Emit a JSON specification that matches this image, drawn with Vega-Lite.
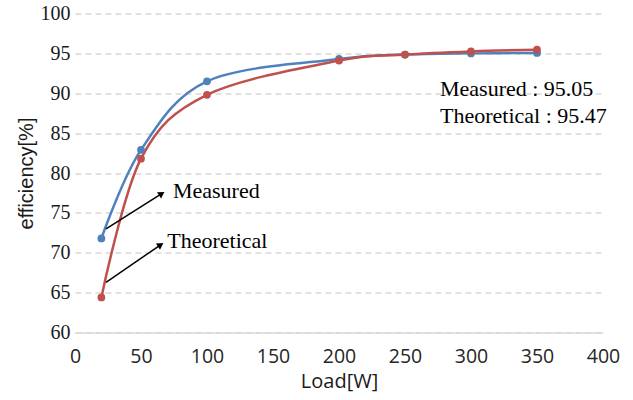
{
  "$schema": "https://vega.github.io/schema/vega-lite/v6.json",
  "width": 528,
  "height": 319,
  "autosize": {"type": "none"},
  "padding": {"left": 75, "top": 13.5, "right": 30, "bottom": 67.5},
  "background": "white",
  "config": {
    "view": {"stroke": null},
    "axisY": {
      "values": [60, 65, 70, 75, 80, 85, 90, 95, 100],
      "grid": true,
      "gridDash": [6, 4],
      "gridColor": "#d9d9d9",
      "gridWidth": 1.5,
      "domain": false,
      "ticks": false,
      "labelFlush": false,
      "labelOverlap": false,
      "labelPadding": 5,
      "labelFont": "Liberation Serif",
      "labelFontSize": 20,
      "labelColor": "#1a1a1a",
      "titleFont": "Liberation Sans",
      "titleFontSize": 20,
      "titleFontWeight": "normal",
      "titleColor": "#1a1a1a",
      "titlePadding": 4
    },
    "axisX": {
      "grid": false,
      "domainColor": "#d9d9d9",
      "domainWidth": 1.5,
      "ticks": false,
      "labelFlush": false,
      "labelOverlap": false,
      "labelPadding": 15,
      "labelDx": 5,
      "labelFont": "Open Sans",
      "labelFontSize": 19.5,
      "labelColor": "#262626",
      "titleFont": "Open Sans",
      "titleFontSize": 20,
      "titleFontWeight": "normal",
      "titleColor": "#1a1a1a",
      "titlePadding": 5
    }
  },
  "datasets": {
    "eff": [
      {"load": 20, "eff": 71.8, "series": "Measured"},
      {"load": 50, "eff": 82.9, "series": "Measured"},
      {"load": 100, "eff": 91.5, "series": "Measured"},
      {"load": 200, "eff": 94.3, "series": "Measured"},
      {"load": 250, "eff": 94.85, "series": "Measured"},
      {"load": 300, "eff": 95.0, "series": "Measured"},
      {"load": 350, "eff": 95.05, "series": "Measured"},
      {"load": 20, "eff": 64.4, "series": "Theoretical"},
      {"load": 50, "eff": 81.8, "series": "Theoretical"},
      {"load": 100, "eff": 89.8, "series": "Theoretical"},
      {"load": 200, "eff": 94.1, "series": "Theoretical"},
      {"load": 250, "eff": 94.85, "series": "Theoretical"},
      {"load": 300, "eff": 95.25, "series": "Theoretical"},
      {"load": 350, "eff": 95.47, "series": "Theoretical"}
    ],
    "arrows": [
      {"load": 23.5, "eff": 73.0, "load2": 65.7, "eff2": 77.4},
      {"load": 23.5, "eff": 66.3, "load2": 64.9, "eff2": 71.0}
    ],
    "arrowLabels": [
      {"load": 74.2, "eff": 77.8, "text": "Measured"},
      {"load": 69.9, "eff": 71.5, "text": "Theoretical"}
    ],
    "notes": [
      {"load": 276.5, "eff": 90.5, "text": "Measured : 95.05"},
      {"load": 276.5, "eff": 87.15, "text": "Theoretical : 95.47"}
    ]
  },
  "layer": [
    {
      "data": {"name": "eff"},
      "mark": {"type": "line", "interpolate": "cardinal", "strokeWidth": 2.5},
      "encoding": {
        "x": {
          "field": "load", "type": "quantitative",
          "scale": {"domain": [0, 400], "nice": false, "zero": false},
          "axis": {"title": "Load[W]", "values": [0, 50, 100, 150, 200, 250, 300, 350, 400]}
        },
        "y": {
          "field": "eff", "type": "quantitative",
          "scale": {"domain": [60, 100], "nice": false, "zero": false},
          "axis": {"title": "efficiency[%]"}
        },
        "color": {
          "field": "series", "type": "nominal",
          "scale": {"domain": ["Measured", "Theoretical"], "range": ["#4f81bd", "#c0504d"]},
          "legend": null
        }
      }
    },
    {
      "data": {"name": "eff"},
      "mark": {"type": "point", "filled": true, "opacity": 1, "size": 60},
      "encoding": {
        "x": {"field": "load", "type": "quantitative"},
        "y": {"field": "eff", "type": "quantitative"},
        "color": {"field": "series", "type": "nominal", "legend": null}
      }
    },
    {
      "data": {"name": "arrows"},
      "mark": {"type": "rule", "color": "black", "strokeWidth": 1.5},
      "encoding": {
        "x": {"field": "load", "type": "quantitative"},
        "y": {"field": "eff", "type": "quantitative"},
        "x2": {"field": "load2"},
        "y2": {"field": "eff2"}
      }
    },
    {
      "data": {"name": "arrows"},
      "mark": {"type": "point", "shape": "triangle-up", "filled": true, "color": "black", "opacity": 1, "size": 55, "angle": 57},
      "encoding": {
        "x": {"field": "load2", "type": "quantitative"},
        "y": {"field": "eff2", "type": "quantitative"}
      }
    },
    {
      "data": {"name": "arrowLabels"},
      "mark": {"type": "text", "align": "left", "baseline": "middle", "font": "Liberation Serif", "fontSize": 22, "color": "black"},
      "encoding": {
        "x": {"field": "load", "type": "quantitative"},
        "y": {"field": "eff", "type": "quantitative"},
        "text": {"field": "text"}
      }
    },
    {
      "data": {"name": "notes"},
      "mark": {"type": "text", "align": "left", "baseline": "middle", "font": "Liberation Serif", "fontSize": 22, "color": "black"},
      "encoding": {
        "x": {"field": "load", "type": "quantitative"},
        "y": {"field": "eff", "type": "quantitative"},
        "text": {"field": "text"}
      }
    }
  ]
}
